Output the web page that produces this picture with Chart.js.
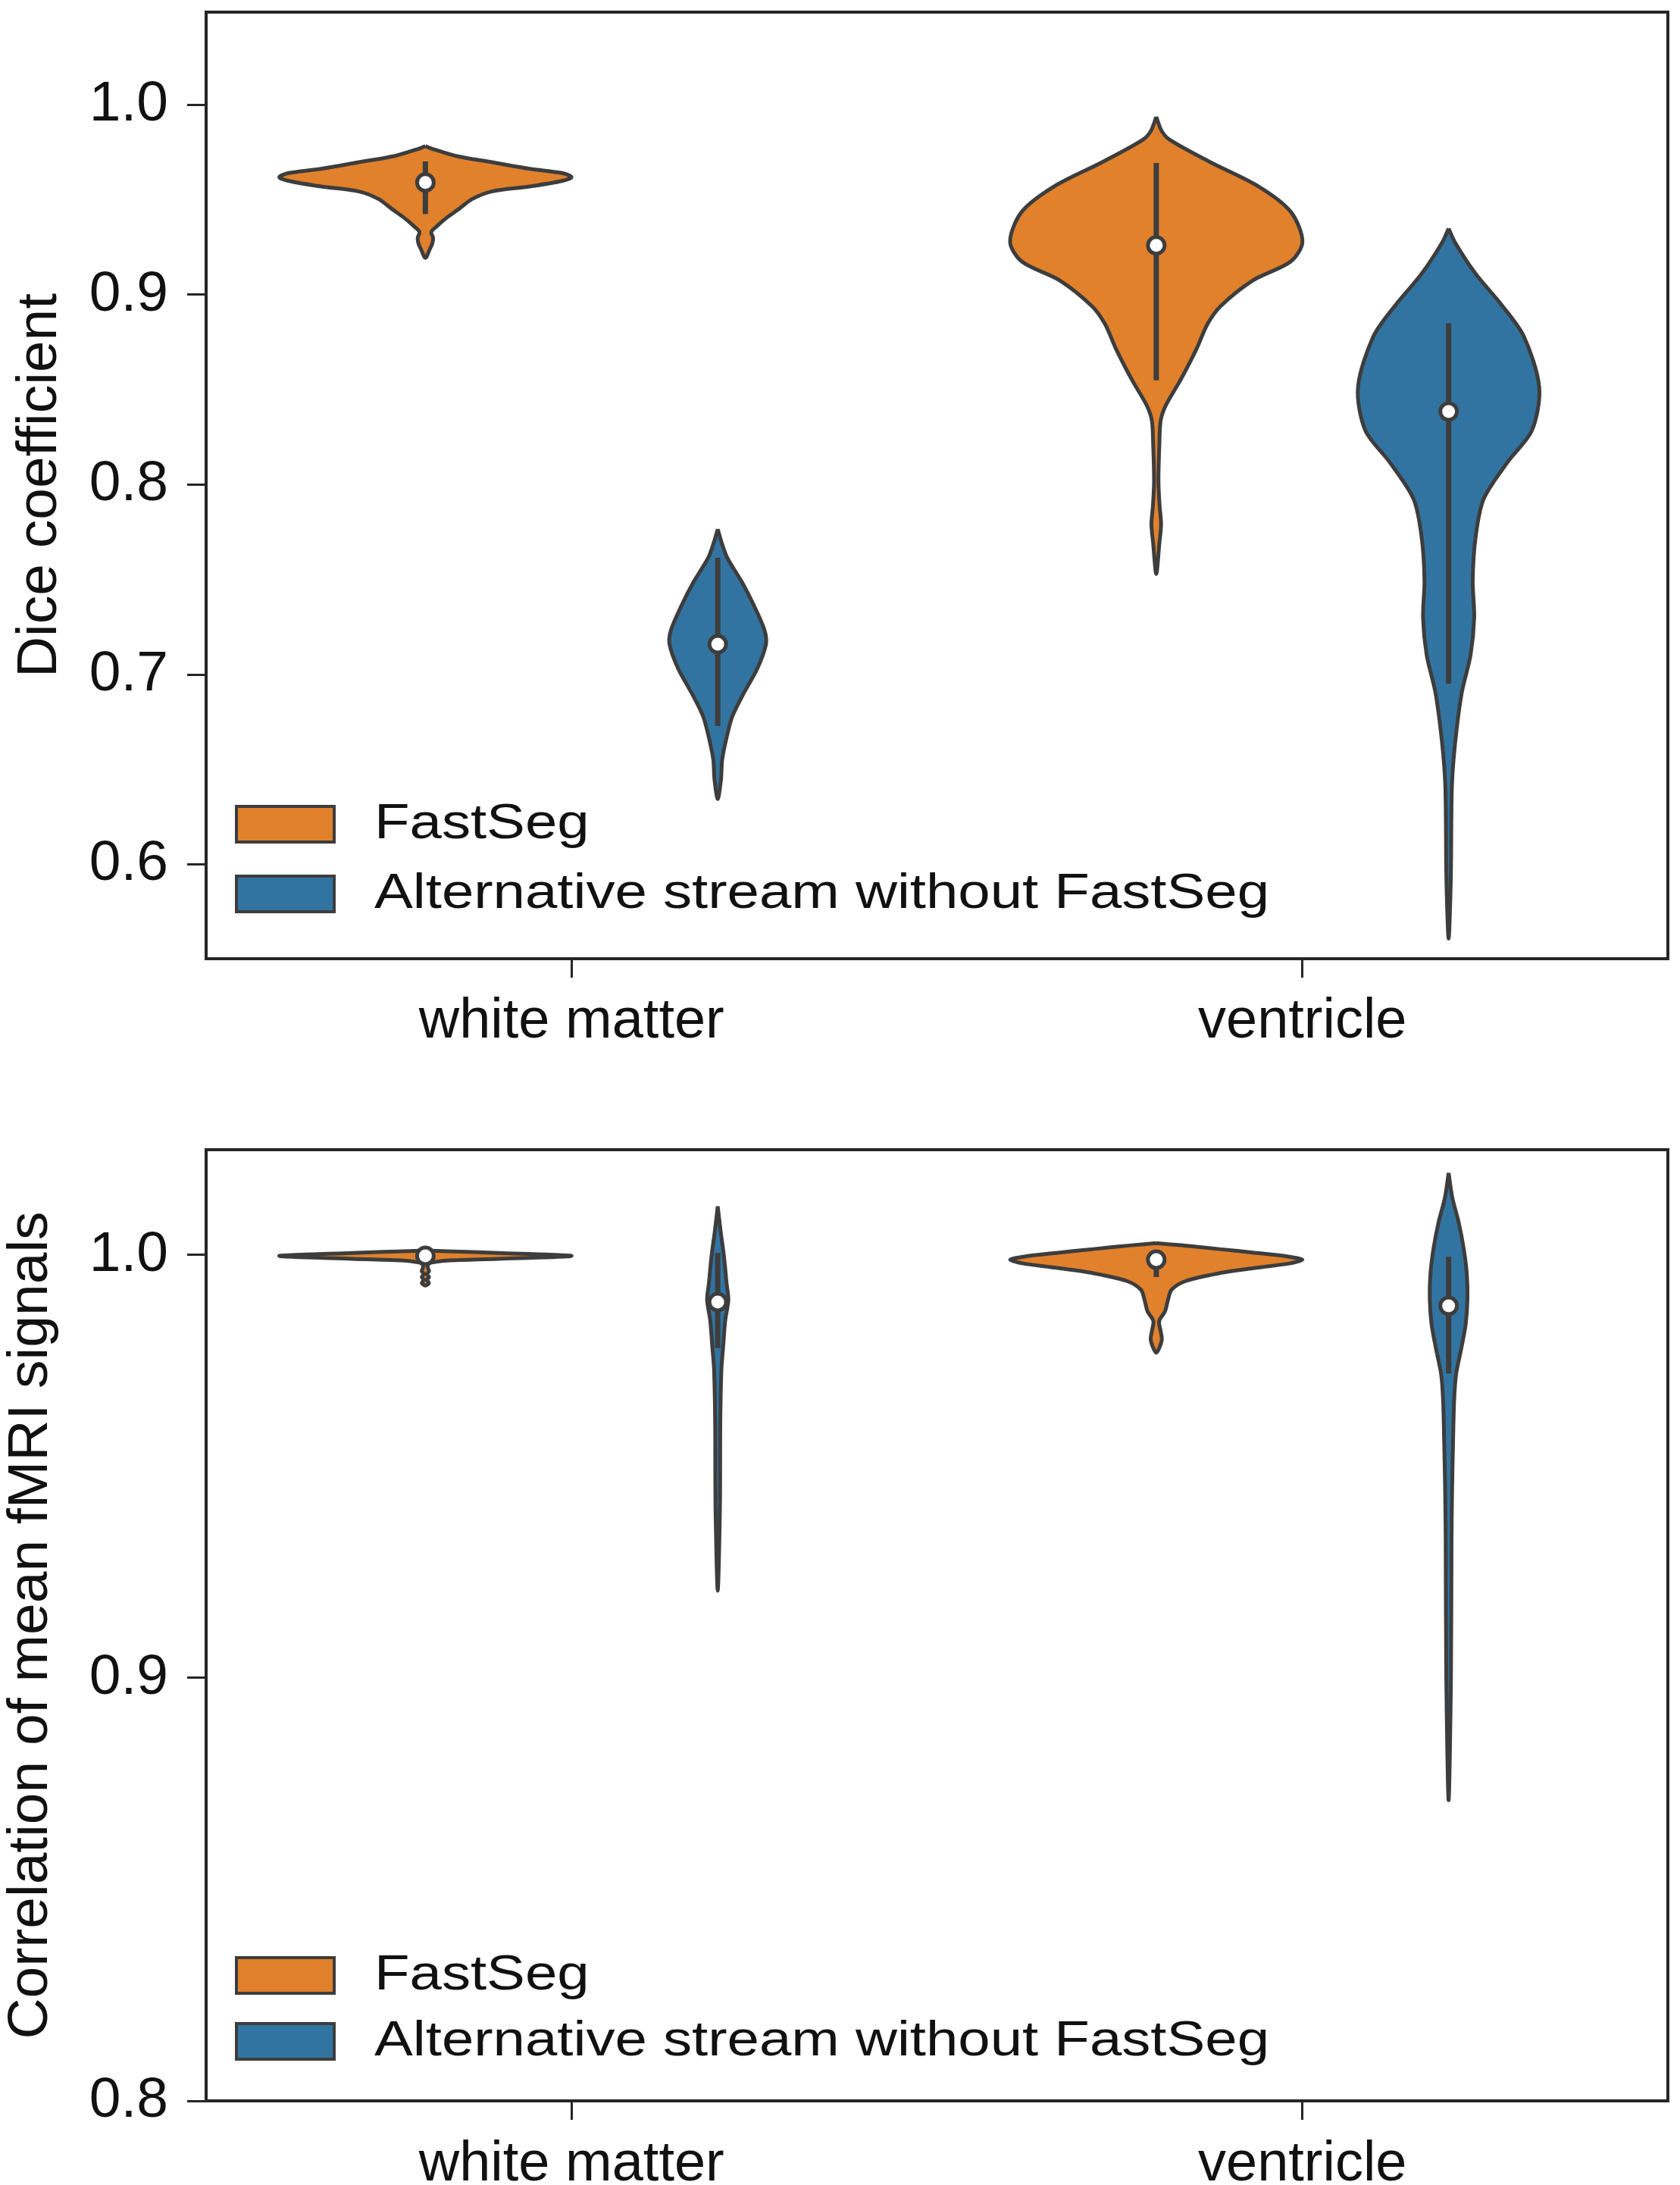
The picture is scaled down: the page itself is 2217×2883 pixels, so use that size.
<!DOCTYPE html>
<html>
<head>
<meta charset="utf-8">
<title>FastSeg violins</title>
<script src="https://cdn.jsdelivr.net/npm/chart.js@4.4.1/dist/chart.umd.min.js"></script>
<style>
    html, body { margin: 0; padding: 0; background: #fff; overflow: hidden; }
    #page { position: relative; width: 2217px; height: 2883px; overflow: hidden; }
    .panel { position: absolute; left: 0; width: 2217px; }
    #topPanel { top: 0; height: 1420px; }
    #bottomPanel { top: 1420px; height: 1463px; }
</style>
</head>
<body>
<div id="page">
    <div class="panel" id="topPanel"><canvas id="diceChart"></canvas></div>
    <div class="panel" id="bottomPanel"><canvas id="corrChart"></canvas></div>
</div>
<script>
const categories = ['white matter', 'ventricle'];
const groups = ['FastSeg', 'Alternative stream without FastSeg'];
const groupColors = ['#e1812c', '#3274a1'];
const hueOffsets = [-0.2, 0.2];

const diceTicks = [0.6, 0.7, 0.8, 0.9, 1.0];
const corrTicks = [0.8, 0.9, 1.0];

// ---- violin outlines: [value, half width in category units] ----

const diceWhiteFast = [
    [0.9782, 0], [0.9765, 0.012], [0.973, 0.043], [0.9698, 0.091], [0.9663, 0.143],
    [0.964, 0.188], [0.9619, 0.2], [0.960, 0.188], [0.957, 0.143], [0.9544, 0.091],
    [0.9504, 0.064], [0.9452, 0.046], [0.9405, 0.029], [0.936, 0.0155], [0.933, 0.008],
    [0.930, 0.0105], [0.927, 0.0095], [0.924, 0.006], [0.9194, 0]
];
const diceWhiteAlt = [
    [0.7766, 0], [0.770, 0.005], [0.7615, 0.013], [0.7488, 0.033], [0.736, 0.05],
    [0.7234, 0.064], [0.716, 0.066], [0.703, 0.054], [0.6905, 0.036], [0.678, 0.02],
    [0.665, 0.011], [0.655, 0.006], [0.645, 0.0045], [0.6345, 0]
];
const diceVentFast = [
    [0.9937, 0], [0.9865, 0.007], [0.9817, 0.018], [0.970, 0.073], [0.957, 0.14],
    [0.9437, 0.184], [0.928, 0.2], [0.9175, 0.184], [0.9075, 0.132], [0.894, 0.088],
    [0.8845, 0.07], [0.8714, 0.055], [0.855, 0.033], [0.8417, 0.013], [0.8337, 0.006],
    [0.822, 0.0043], [0.802, 0.003], [0.7893, 0.0045], [0.779, 0.0066], [0.7694, 0.0043],
    [0.753, 0]
];
const diceVentAlt = [
    [0.9349, 0], [0.9274, 0.009], [0.911, 0.037], [0.8944, 0.073], [0.878, 0.103],
    [0.8512, 0.124], [0.8286, 0.114], [0.812, 0.081], [0.7925, 0.048], [0.7726, 0.037],
    [0.7496, 0.033], [0.730, 0.035], [0.7103, 0.03], [0.6905, 0.018], [0.6643, 0.009],
    [0.641, 0.0045], [0.5917, 0.003], [0.561, 0]
];

const corrWhiteFast = [
    [1.0011, 0], [1.0009, 0.03], [1.0005, 0.1], [0.9998, 0.2], [0.9991, 0.1],
    [0.9987, 0.03], [0.9983, 0.01], [0.998, 0.005], [0.9972, 0.003], [0.9962, 0.005],
    [0.9955, 0.002], [0.9948, 0.005], [0.9941, 0.002], [0.9934, 0.005], [0.9928, 0]
];
const corrWhiteAlt = [
    [1.0115, 0], [1.0056, 0.004], [0.9996, 0.0086], [0.9935, 0.012], [0.9894, 0.0145],
    [0.9846, 0.0103], [0.9787, 0.0076], [0.9728, 0.005], [0.960, 0.0035], [0.940, 0.003],
    [0.9206, 0]
];
const corrVentFast = [
    [1.0028, 0], [1.0023, 0.034], [1.0014, 0.086], [1.0005, 0.137], [0.9996, 0.182],
    [0.9989, 0.2], [0.998, 0.182], [0.997, 0.137], [0.9957, 0.086], [0.9939, 0.041],
    [0.9918, 0.021], [0.989, 0.0155], [0.9867, 0.012], [0.9844, 0.004], [0.982, 0.006],
    [0.980, 0.0076], [0.978, 0.004], [0.9769, 0]
];
const corrVentAlt = [
    [1.0194, 0], [1.0136, 0.005], [1.0077, 0.0138], [1.0016, 0.0206], [0.9957, 0.0248],
    [0.9898, 0.0258], [0.9837, 0.0234], [0.9778, 0.0172], [0.9719, 0.0103], [0.9658, 0.0076],
    [0.9568, 0.0062], [0.945, 0.0048], [0.933, 0.004], [0.90, 0.0032], [0.8711, 0]
];

// ---- inner box: medians and [low, high] per category ----

const diceMedianFast = [0.9591, 0.926];
const diceMedianAlt = [0.716, 0.8385];
const diceBoxFast = [[0.9425, 0.9702], [0.855, 0.9694]];
const diceBoxAlt = [[0.673, 0.7615], [0.6952, 0.885]];

const corrMedianFast = [0.9998, 0.9989];
const corrMedianAlt = [0.9889, 0.988];
const corrBoxFast = [[0.9985, 1.0003], [0.9948, 0.9995]];
const corrBoxAlt = [[0.978, 1.0005], [0.972, 0.9996]];


const GRAY = '#3d3d3d';
const INK = '#262626';
const FONT = '"Liberation Sans", Arial, Helvetica, sans-serif';

function violinPoints(profile, center) {
    const right = profile.map(([v, w]) => ({x: center + w, y: v}));
    const left = profile.slice().reverse().map(([v, w]) => ({x: center - w, y: v}));
    return right.concat(left.slice(1));
}

function buildDatasets(profiles, medians, boxes) {
    const sets = [];
    profiles.forEach((byCat, g) => {
        byCat.forEach((profile, c) => {
            const cx = c + hueOffsets[g];
            sets.push({
                data: violinPoints(profile, cx),
                showLine: true,
                fill: 'shape',
                backgroundColor: groupColors[g],
                borderColor: GRAY,
                borderWidth: 5,
                borderJoinStyle: 'round',
                tension: 0.3,
                pointRadius: 0,
                order: 3
            });
            sets.push({
                data: [{x: cx, y: boxes[g][c][0]}, {x: cx, y: boxes[g][c][1]}],
                showLine: true,
                borderColor: GRAY,
                borderWidth: 7,
                pointRadius: 0,
                order: 2
            });
            sets.push({
                data: [{x: cx, y: medians[g][c]}],
                showLine: false,
                pointRadius: 11,
                pointBackgroundColor: '#ffffff',
                pointBorderColor: GRAY,
                pointBorderWidth: 5,
                order: 1
            });
        });
    });
    return sets;
}

// legend boxes in the lower left corner + full frame round the axes
const boxLegend = {
    id: 'boxLegend',
    afterDraw(chart, args, opts) {
        const {ctx, chartArea} = chart;
        ctx.save();
        opts.rows.forEach((rowTop, i) => {
            const x = chartArea.left + 40;
            const y = chartArea.bottom + rowTop;
            ctx.fillStyle = groupColors[i];
            ctx.fillRect(x, y, 129, 47);
            ctx.lineWidth = 4;
            ctx.strokeStyle = GRAY;
            ctx.strokeRect(x, y, 129, 47);

            ctx.save();
            ctx.translate(chartArea.left + 222, y + 24);
            ctx.scale(1.19, 1);
            ctx.font = '64px ' + FONT;
            ctx.textBaseline = 'middle';
            ctx.fillStyle = '#111';
            ctx.fillText(groups[i], 0, 0);
            ctx.restore();
        });
        ctx.lineWidth = 4;
        ctx.strokeStyle = INK;
        ctx.strokeRect(chartArea.left, chartArea.top,
            chartArea.right - chartArea.left, chartArea.bottom - chartArea.top);
        ctx.restore();
    }
};

function makeChart(id, cfg) {
    return new Chart(document.getElementById(id), {
        type: 'scatter',
        data: {datasets: buildDatasets(cfg.profiles, cfg.medians, cfg.boxes)},
        plugins: [boxLegend],
        options: {
            responsive: true,
            maintainAspectRatio: false,
            devicePixelRatio: 1,
            animation: false,
            events: [],
            layout: {padding: {top: cfg.padTop, right: 2, left: 0, bottom: 0}},
            plugins: {
                legend: {display: false},
                tooltip: {enabled: false},
                boxLegend: {rows: cfg.legendRows}
            },
            scales: {
                x: {
                    type: 'linear',
                    min: -0.5,
                    max: 1.5,
                    afterBuildTicks: s => { s.ticks = categories.map((_, i) => ({value: i})); },
                    afterFit: s => {
                        s.height = cfg.xHeight;
                        s.paddingLeft = 0;
                        s.paddingRight = 0;
                    },
                    grid: {drawOnChartArea: false, tickLength: 25, tickWidth: 3, tickColor: INK},
                    border: {width: 4, color: INK},
                    ticks: {
                        callback: v => categories[v],
                        maxRotation: 0,
                        padding: cfg.xPad,
                        color: '#111',
                        font: {family: FONT, size: 74}
                    }
                },
                y: {
                    type: 'linear',
                    min: cfg.yMin,
                    max: cfg.yMax,
                    afterBuildTicks: s => { s.ticks = cfg.ticks.map(v => ({value: v})); },
                    afterFit: s => {
                        s.width = 272;
                        s.paddingTop = 0;
                        s.paddingBottom = 0;
                    },
                    grid: {drawOnChartArea: false, tickLength: 25, tickWidth: 3, tickColor: INK},
                    border: {width: 4, color: INK},
                    ticks: {
                        callback: v => v.toFixed(1),
                        padding: 25,
                        color: '#111',
                        font: {family: FONT, size: 75}
                    },
                    title: {
                        display: true,
                        text: cfg.title,
                        color: '#111',
                        font: {family: FONT, size: 75, lineHeight: 1},
                        padding: {top: cfg.titlePad, bottom: 0}
                    }
                }
            }
        }
    });
}

makeChart('diceChart', {
    profiles: [[diceWhiteFast, diceVentFast], [diceWhiteAlt, diceVentAlt]],
    medians: [diceMedianFast, diceMedianAlt],
    boxes: [diceBoxFast, diceBoxAlt],
    ticks: diceTicks,
    yMin: 0.5504,
    yMax: 1.0488,
    title: 'Dice coefficient',
    titlePad: 16,
    padTop: 9,
    xHeight: 155,
    xPad: 14,
    legendRows: [-201, -109]
});

makeChart('corrChart', {
    profiles: [[corrWhiteFast, corrVentFast], [corrWhiteAlt, corrVentAlt]],
    medians: [corrMedianFast, corrMedianAlt],
    boxes: [corrBoxFast, corrBoxAlt],
    ticks: corrTicks,
    yMin: 0.8,
    yMax: 1.0249,
    title: 'Correlation of mean fMRI signals',
    titlePad: 4,
    padTop: 97,
    xHeight: 111,
    xPad: 15,
    legendRows: [-189, -102]
});
</script>
</body>
</html>
